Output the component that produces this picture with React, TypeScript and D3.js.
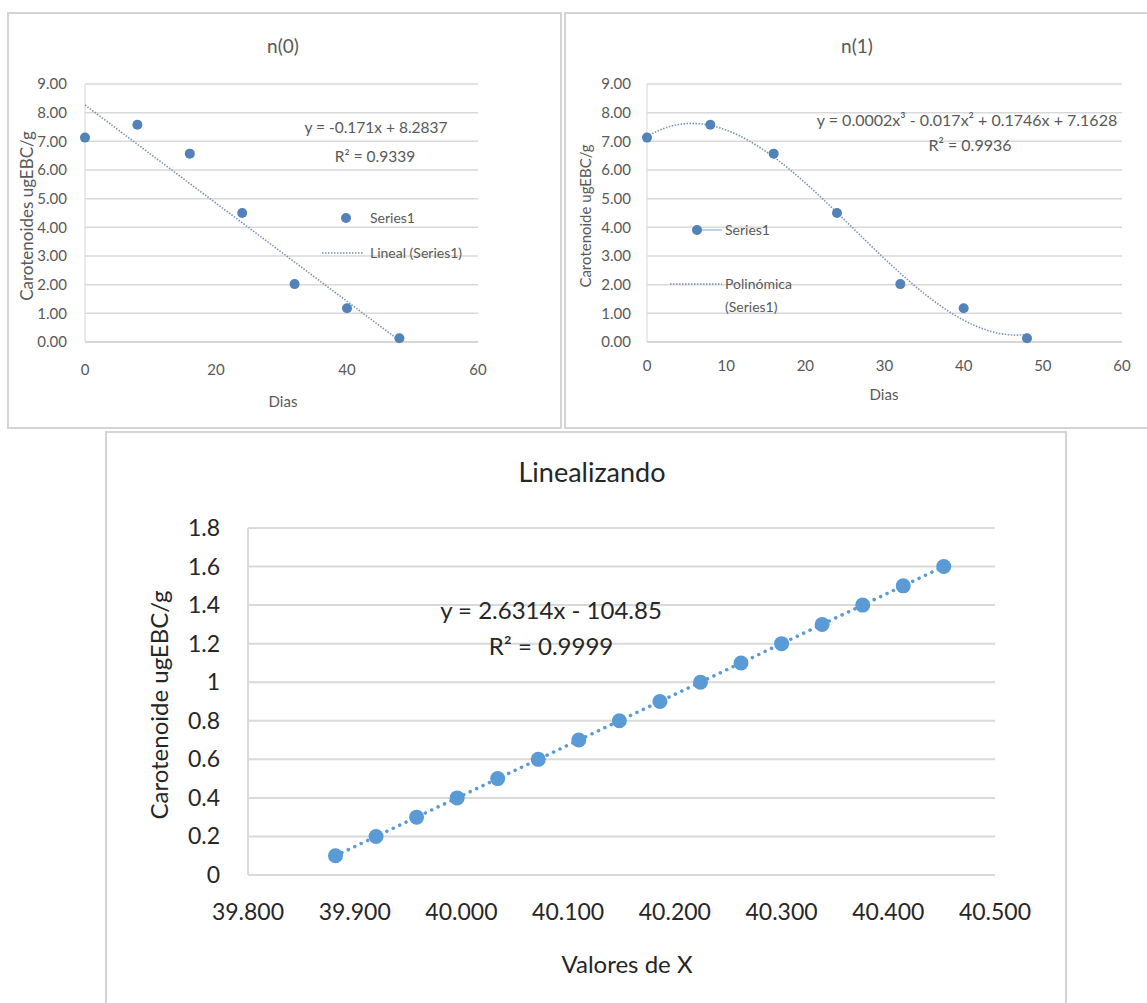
import React from "react";
import * as d3 from "d3";

const days = [0, 8, 16, 24, 32, 40, 48];
const carotenoids = [7.13, 7.58, 6.57, 4.5, 2.02, 1.18, 0.13];

const linX = [39.882, 39.920, 39.958, 39.996, 40.034, 40.072, 40.110, 40.148, 40.186, 40.224, 40.262, 40.300, 40.338, 40.376, 40.414, 40.452];
const linY = [0.1, 0.2, 0.3, 0.4, 0.5, 0.6, 0.7, 0.8, 0.9, 1.0, 1.1, 1.2, 1.3, 1.4, 1.5, 1.6];

const ticksY9 = [0, 1, 2, 3, 4, 5, 6, 7, 8, 9];
const ticksXLeft = [0, 20, 40, 60];
const ticksXRight = [0, 10, 20, 30, 40, 50, 60];
const ticksYBottom = [0, 0.2, 0.4, 0.6, 0.8, 1, 1.2, 1.4, 1.6, 1.8];
const ticksXBottom = [39.8, 39.9, 40.0, 40.1, 40.2, 40.3, 40.4, 40.5];

function polyFit(xs: number[], ys: number[], deg: number): number[] {
  const n = deg + 1;
  const A: number[][] = [];
  for (let i = 0; i < n; i++) {
    A.push([]);
    for (let j = 0; j < n; j++) {
      A[i].push(d3.sum(xs, (x) => Math.pow(x, i + j)));
    }
    A[i].push(d3.sum(xs, (x, k) => ys[k] * Math.pow(x, i)));
  }
  for (let c = 0; c < n; c++) {
    let p = c;
    for (let r = c + 1; r < n; r++) if (Math.abs(A[r][c]) > Math.abs(A[p][c])) p = r;
    [A[c], A[p]] = [A[p], A[c]];
    for (let r = 0; r < n; r++) {
      if (r === c) continue;
      const f = A[r][c] / A[c][c];
      for (let k = c; k <= n; k++) A[r][k] -= f * A[c][k];
    }
  }
  return A.map((row, i) => row[n] / row[i]);
}
const evalPoly = (co: number[], x: number) => co.reduce((s, c, i) => s + c * Math.pow(x, i), 0);

const FONT = "Lato, 'Open Sans', sans-serif";
const GRID = "#d9d9d9";
const TXT = "#595959";
const DOT_TOP = "#5282b8";
const DOT = "#5b9bd5";

function TopChart(props: {
  xRange: [number, number];
  ticksX: number[];
  labelX: number;
  title: string;
  titleX: number;
  yLabel: string;
  yLabelX: number;
  yLabelSize: number;
  yTickRight: number;
  xTickY: number;
  diasX: number;
  diasY: number;
  deg: number;
  children?: React.ReactNode;
}) {
  const x = d3.scaleLinear().domain([0, 60]).range(props.xRange);
  const y = d3.scaleLinear().domain([0, 9]).range([342, 84]);
  const co = polyFit(days, carotenoids, props.deg);
  const fx = d3.range(0, 48.01, 0.5);
  const line = d3
    .line<number>()
    .x((d) => x(d))
    .y((d) => y(evalPoly(co, d)))
    .curve(d3.curveLinear);
  return (
    <g>
      {ticksY9.map((t) => (
        <line key={"g" + t} x1={x(0)} x2={x(60)} y1={y(t)} y2={y(t)} stroke={t === 0 ? "#c8c8c8" : GRID} strokeWidth={1.5} />
      ))}
      <line x1={x(0)} x2={x(0)} y1={y(0)} y2={y(9)} stroke="#dcdcdc" strokeWidth={1.2} />
      {ticksY9.map((t) => (
        <text key={"yt" + t} x={props.yTickRight} y={y(t)} dy="0.35em" textAnchor="end" fontSize={15} fill={TXT} fontFamily={FONT}>
          {t.toFixed(2)}
        </text>
      ))}
      {props.ticksX.map((t) => (
        <text key={"xt" + t} x={x(t)} y={props.xTickY} dy="0.35em" textAnchor="middle" fontSize={15} fill={TXT} fontFamily={FONT}>
          {t}
        </text>
      ))}
      <text x={props.titleX} y={46} dy="0.35em" textAnchor="middle" fontSize={19} fill={TXT} fontFamily={FONT}>
        {props.title}
      </text>
      <text x={props.diasX} y={props.diasY} dy="0.35em" textAnchor="middle" fontSize={15} fill={TXT} fontFamily={FONT}>
        Dias
      </text>
      <text
        transform={`translate(${props.yLabelX},216) rotate(-90)`}
        dy="0.35em"
        textAnchor="middle"
        fontSize={props.yLabelSize}
        fill={TXT}
        fontFamily={FONT}
      >
        {props.yLabel}
      </text>
      <path d={line(fx) || ""} fill="none" stroke="#7b93b5" strokeWidth={1.6} strokeDasharray="1.5 1.5" />
      {days.map((d, i) => (
        <circle key={"p" + i} cx={x(d)} cy={y(carotenoids[i])} r={5} fill={DOT_TOP} />
      ))}
      {props.children}
    </g>
  );
}

function BottomChart() {
  const x = d3.scaleLinear().domain([39.8, 40.5]).range([248, 995]);
  const y = d3.scaleLinear().domain([0, 1.8]).range([875, 528]);
  const co = polyFit(linX, linY, 1);
  const x0 = linX[0];
  const x1 = linX[linX.length - 1];
  return (
    <g>
      {ticksYBottom.map((t) => (
        <line key={"bg" + t} x1={x(39.8)} x2={x(40.5)} y1={y(t)} y2={y(t)} stroke={GRID} strokeWidth={2} />
      ))}
      <line x1={x(39.8)} x2={x(39.8)} y1={y(0)} y2={y(1.8)} stroke={GRID} strokeWidth={2} />
      {ticksYBottom.map((t) => (
        <text key={"byt" + t} x={220} y={y(t)} dy="0.35em" textAnchor="end" fontSize={23} fill="#262626" fontFamily={FONT}>
          {String(t)}
        </text>
      ))}
      {ticksXBottom.map((t) => (
        <text key={"bxt" + t} x={x(t)} y={912} dy="0.35em" textAnchor="middle" fontSize={23} fill="#262626" fontFamily={FONT}>
          {t.toFixed(3)}
        </text>
      ))}
      <text x={592} y={473} dy="0.35em" textAnchor="middle" fontSize={27} fill="#262626" fontFamily={FONT}>
        Linealizando
      </text>
      <text x={627} y={965} dy="0.35em" textAnchor="middle" fontSize={24} fill="#262626" fontFamily={FONT}>
        Valores de X
      </text>
      <text transform="translate(160,705) rotate(-90)" dy="0.35em" textAnchor="middle" fontSize={24} fill="#262626" fontFamily={FONT}>
        Carotenoide ugEBC/g
      </text>
      <text x={551} y={611} dy="0.35em" textAnchor="middle" fontSize={24} fill="#262626" fontFamily={FONT}>
        y = 2.6314x - 104.85
      </text>
      <text x={551} y={647} dy="0.35em" textAnchor="middle" fontSize={24} fill="#262626" fontFamily={FONT}>
        R² = 0.9999
      </text>
      <line
        x1={x(x0)}
        y1={y(evalPoly(co, x0))}
        x2={x(x1)}
        y2={y(evalPoly(co, x1))}
        stroke={DOT}
        strokeWidth={3.5}
        strokeLinecap="round"
        strokeDasharray="0.1 7"
      />
      {linX.map((v, i) => (
        <circle key={"bp" + i} cx={x(v)} cy={y(linY[i])} r={7.5} fill={DOT} />
      ))}
    </g>
  );
}

export default function App() {
  return (
    <svg
      width={1147}
      height={1003}
      style={{ position: "absolute", left: 0, top: 0, background: "#fff" }}
    >
      <rect x={0} y={0} width={1147} height={1003} fill="#fff" />
      <rect x={8} y={13} width={553} height={415} fill="none" stroke="#d4d4d4" strokeWidth={2} />
      <rect x={565} y={13} width={600} height={415} fill="none" stroke="#d4d4d4" strokeWidth={2} />
      <rect x={106} y={432} width={960} height={600} fill="none" stroke="#d4d4d4" strokeWidth={2} />

      <TopChart
        xRange={[85, 478]}
        ticksX={ticksXLeft}
        labelX={0}
        title="n(0)"
        titleX={283}
        yLabel="Carotenoides ugEBC/g"
        yLabelX={27}
        yLabelSize={17}
        yTickRight={67}
        xTickY={370}
        diasX={283}
        diasY={402}
        deg={1}
      >
        <text x={376} y={128} dy="0.35em" textAnchor="middle" fontSize={15.5} fill={TXT} fontFamily={FONT}>
          y = -0.171x + 8.2837
        </text>
        <text x={375} y={157} dy="0.35em" textAnchor="middle" fontSize={15.5} fill={TXT} fontFamily={FONT}>
          R² = 0.9339
        </text>
        <circle cx={346} cy={218} r={5} fill={DOT_TOP} />
        <text x={370} y={218} dy="0.35em" fontSize={14} fill={TXT} fontFamily={FONT}>
          Series1
        </text>
        <line x1={322} x2={363} y1={253} y2={253} stroke="#7b93b5" strokeWidth={1.6} strokeDasharray="1.5 1.5" />
        <text x={370} y={253} dy="0.35em" fontSize={14} fill={TXT} fontFamily={FONT}>
          Lineal (Series1)
        </text>
      </TopChart>

      <TopChart
        xRange={[647, 1122]}
        ticksX={ticksXRight}
        labelX={0}
        title="n(1)"
        titleX={857}
        yLabel="Carotenoide ugEBC/g"
        yLabelX={586}
        yLabelSize={15}
        yTickRight={631}
        xTickY={366}
        diasX={884}
        diasY={395}
        deg={3}
      >
        <text x={967} y={120} dy="0.35em" textAnchor="middle" fontSize={16} fill={TXT} fontFamily={FONT}>
          y = 0.0002x³ - 0.017x² + 0.1746x + 7.1628
        </text>
        <text x={970} y={145} dy="0.35em" textAnchor="middle" fontSize={16} fill={TXT} fontFamily={FONT}>
          R² = 0.9936
        </text>
        <line x1={697} x2={722} y1={230} y2={230} stroke="#bcd3ec" strokeWidth={2} />
        <circle cx={697} cy={230} r={5} fill={DOT_TOP} />
        <text x={725} y={230} dy="0.35em" fontSize={14} fill={TXT} fontFamily={FONT}>
          Series1
        </text>
        <line x1={670} x2={722} y1={284} y2={284} stroke="#7b93b5" strokeWidth={1.6} strokeDasharray="1.5 1.5" />
        <text x={725} y={284} dy="0.35em" fontSize={14} fill={TXT} fontFamily={FONT}>
          Polinómica
        </text>
        <text x={725} y={307} dy="0.35em" fontSize={14} fill={TXT} fontFamily={FONT}>
          (Series1)
        </text>
      </TopChart>

      <BottomChart />
    </svg>
  );
}
